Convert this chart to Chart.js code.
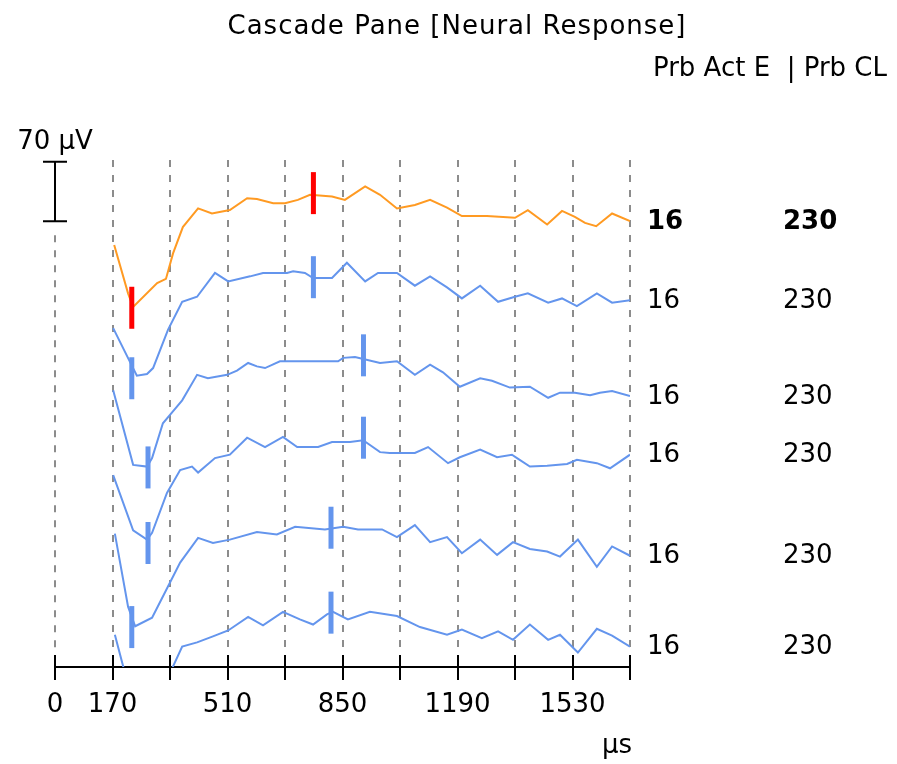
<!DOCTYPE html>
<html>
<head>
<meta charset="utf-8">
<script src="https://cdn.jsdelivr.net/npm/chart.js@4.4.1/dist/chart.umd.min.js"></script>
<style>
  html, body { margin: 0; padding: 0; background: #fff; }
  #wrap { width: 897px; height: 764px; }
</style>
</head>
<body>
<div id="wrap"><canvas id="cascade" width="897" height="764"></canvas></div>
<script>
// latency axis (µs)
const xMax = 1700;
const xStep = 170;
const xTickLabels = [0, 170, 510, 850, 1190, 1530];

// one waveform per trace, top to bottom: sample times (µs) and amplitude (µV)
const t1 = [175, 216, 231, 302, 328, 349, 378, 423, 464, 517, 568, 597, 645, 680, 718, 754, 819, 857, 917, 961, 1011, 1064, 1109, 1159, 1203, 1277, 1360, 1398, 1455, 1499, 1537, 1567, 1600, 1647, 1700];
const uv1 = [-28, -85, -101, -73, -68, -38, -7, 15, 9, 13, 27, 26, 21, 21, 25, 31, 29, 25, 41, 31, 15, 19, 25, 16, 6, 6, 4, 13, -4, 12, 5, -2, -6, 9, 0];

const t2 = [172, 222, 242, 272, 290, 334, 376, 420, 473, 512, 577, 615, 686, 704, 739, 763, 819, 863, 917, 955, 1011, 1064, 1109, 1159, 1203, 1257, 1310, 1360, 1398, 1458, 1499, 1543, 1602, 1647, 1700];
const uv2 = [-26, -66, -82, -80, -73, -28, 5, 11, 39, 29, 35, 39, 39, 41, 39, 33, 33, 51, 29, 39, 39, 24, 35, 22, 9, 24, 5, 11, 15, 4, 9, 0, 15, 4, 7];

const t3 = [172, 231, 272, 287, 319, 340, 376, 420, 452, 509, 538, 571, 597, 621, 665, 837, 852, 887, 961, 1011, 1064, 1109, 1147, 1197, 1257, 1292, 1345, 1404, 1458, 1493, 1537, 1582, 1611, 1647, 1700];
const uv3 = [1, -87, -89, -79, -38, -28, -11, 19, 15, 19, 24, 33, 29, 27, 35, 35, 39, 40, 33, 35, 19, 31, 22, 5, 15, 12, 4, 5, -8, -2, -2, -5, -2, 0, -6];

const t4 = [172, 231, 272, 287, 331, 370, 405, 423, 473, 517, 568, 621, 674, 716, 778, 819, 872, 911, 961, 990, 1064, 1103, 1162, 1197, 1257, 1307, 1351, 1366, 1404, 1455, 1514, 1543, 1602, 1641, 1700];
const uv4 = [1, -64, -75, -67, -20, 7, 11, 4, 21, 25, 45, 34, 46, 34, 34, 40, 40, 42, 28, 27, 27, 34, 15, 22, 31, 22, 25, 21, 11, 12, 14, 19, 15, 9, 25];

const t5 = [177, 216, 237, 287, 319, 370, 423, 467, 517, 597, 656, 710, 798, 852, 896, 967, 1011, 1064, 1109, 1159, 1203, 1257, 1307, 1354, 1404, 1455, 1493, 1546, 1602, 1647, 1700];
const uv5 = [32, -54, -77, -67, -42, -2, 27, 21, 25, 34, 31, 40, 37, 40, 37, 37, 28, 42, 22, 28, 9, 25, 7, 22, 14, 11, 5, 25, -7, 17, 6];

const t6 = [177, 231, 275, 310, 376, 420, 467, 512, 571, 615, 674, 724, 763, 804, 822, 866, 931, 1011, 1079, 1159, 1203, 1262, 1310, 1354, 1404, 1458, 1493, 1546, 1602, 1647, 1700];
const uv6 = [13, -69, -78, -58, -1, 4, 11, 18, 34, 24, 40, 31, 25, 37, 40, 31, 40, 35, 22, 13, 19, 9, 17, 7, 25, 7, 13, -8, 20, 12, -1];

// cursors per trace: early trough and late peak (time µs, amplitude µV)
const earlyT = [227, 227, 275, 275, 227, null];
const earlyUv = [-102, -85, -90, -79, -78, null];
const lateT = [764, 764, 912, 912, 816, 816];
const lateUv = [33, 34, 42, 45, 39, 39];

// right-hand columns
const probeActE = [16, 16, 16, 16, 16, 16];
const probeCL = [230, 230, 230, 230, 230, 230];
const activeTrace = 0;

const cascadeStep = 100;   // µV between stacked traces
const scaleBarUv = 70;

const traceTimes = [t1, t2, t3, t4, t5, t6];
const traceUv = [uv1, uv2, uv3, uv4, uv5, uv6];
const nTraces = traceTimes.length;
const baseline = k => (nTraces - 1 - k) * cascadeStep;

const FONT = '"DejaVu Sans", "Liberation Sans", sans-serif';
const GRID = '#8c8c8c';
const ORANGE = '#ff9a22';
const BLUE = '#6495ed';
const RED = '#ff0000';

const datasets = [];
traceTimes.forEach((times, k) => {
  datasets.push({
    label: 'Trace ' + (k + 1),
    data: times.map((t, i) => ({ x: t, y: baseline(k) + traceUv[k][i] })),
    showLine: true,
    borderColor: k === activeTrace ? ORANGE : BLUE,
    borderWidth: 2,
    pointRadius: 0,
    tension: 0,
    order: 2
  });
});
traceTimes.forEach((_, k) => {
  const pts = [];
  if (earlyT[k] != null) pts.push({ x: earlyT[k], y: baseline(k) + earlyUv[k] });
  pts.push({ x: lateT[k], y: baseline(k) + lateUv[k] });
  datasets.push({
    label: 'Cursors ' + (k + 1),
    data: pts,
    showLine: false,
    pointStyle: 'line',
    rotation: 90,
    pointRadius: 21,
    pointBorderWidth: 5,
    pointBorderColor: k === activeTrace ? RED : BLUE,
    pointBackgroundColor: k === activeTrace ? RED : BLUE,
    order: 1
  });
});

const cascadeDecor = {
  id: 'cascadeDecor',
  beforeDatasetsDraw(chart) {
    // zero-latency grid line starts below the scale bar
    const { ctx, chartArea: a, scales: { x, y } } = chart;
    const x0 = x.getPixelForValue(0);
    const yBase = y.getPixelForValue(baseline(0));
    ctx.save();
    ctx.strokeStyle = GRID;
    ctx.lineWidth = 2;
    ctx.setLineDash([7, 8]);
    ctx.beginPath();
    ctx.moveTo(x0, yBase + 14);
    ctx.lineTo(x0, a.bottom);
    ctx.stroke();
    ctx.restore();
  },
  afterDraw(chart) {
    const { ctx, chartArea: a, scales: { x, y } } = chart;
    ctx.save();
    ctx.fillStyle = '#000';
    ctx.strokeStyle = '#000';
    ctx.lineWidth = 2;

    // tick marks crossing the axis line
    x.ticks.forEach(t => {
      const px = Math.round(x.getPixelForValue(t.value));
      ctx.beginPath();
      ctx.moveTo(px, a.bottom - 12);
      ctx.lineTo(px, a.bottom + 13);
      ctx.stroke();
    });

    // amplitude scale bar
    const x0 = Math.round(x.getPixelForValue(0));
    const yBot = y.getPixelForValue(baseline(0));
    const yTop = y.getPixelForValue(baseline(0) + scaleBarUv);
    ctx.beginPath();
    ctx.moveTo(x0, yTop); ctx.lineTo(x0, yBot);
    ctx.moveTo(x0 - 12, yTop); ctx.lineTo(x0 + 12, yTop);
    ctx.moveTo(x0 - 12, yBot); ctx.lineTo(x0 + 12, yBot);
    ctx.stroke();
    ctx.font = '26px ' + FONT;
    ctx.textAlign = 'center';
    ctx.textBaseline = 'alphabetic';
    ctx.fillText(scaleBarUv + ' µV', x0, yTop - 13);

    // title and column header
    ctx.letterSpacing = '1px';
    ctx.fillText('Cascade Pane [Neural Response]', 457, 34);
    ctx.letterSpacing = '0px';
    ctx.textAlign = 'right';
    ctx.fillText('Prb Act E  | Prb CL', 887, 76);

    // unit of the latency axis
    ctx.fillText('µs', 632, 753);

    // per-trace values at the end of each trace
    ctx.textAlign = 'left';
    ctx.textBaseline = 'middle';
    traceUv.forEach((vals, k) => {
      const py = y.getPixelForValue(baseline(k) + vals[vals.length - 1]);
      ctx.font = (k === activeTrace ? 'bold ' : '') + '26px ' + FONT;
      ctx.fillText(String(probeActE[k]), 647, py + 1);
      ctx.fillText(String(probeCL[k]), 783, py + 1);
    });
    ctx.restore();
  }
};

new Chart(document.getElementById('cascade'), {
  type: 'scatter',
  data: { datasets },
  options: {
    responsive: false,
    animation: false,
    events: [],
    layout: { padding: { left: 55, right: 267, top: 160, bottom: 0 } },
    plugins: { legend: { display: false }, tooltip: { enabled: false } },
    scales: {
      x: {
        type: 'linear',
        min: 0,
        max: xMax,
        afterFit(scale) { scale.height = 97; },
        ticks: {
          stepSize: xStep,
          autoSkip: false,
          maxRotation: 0,
          padding: 23,
          color: '#000',
          font: { family: FONT, size: 26 },
          callback: v => xTickLabels.includes(v) ? String(v) : ''
        },
        grid: {
          color: c => (c.tick && c.tick.value === 0) ? 'rgba(0,0,0,0)' : GRID,
          lineWidth: 2,
          drawTicks: false
        },
        border: { display: true, color: '#000', width: 2, dash: [7, 8] }
      },
      y: {
        type: 'linear',
        display: false,
        min: -25,
        max: 572
      }
    }
  },
  plugins: [cascadeDecor]
});
</script>
</body>
</html>
